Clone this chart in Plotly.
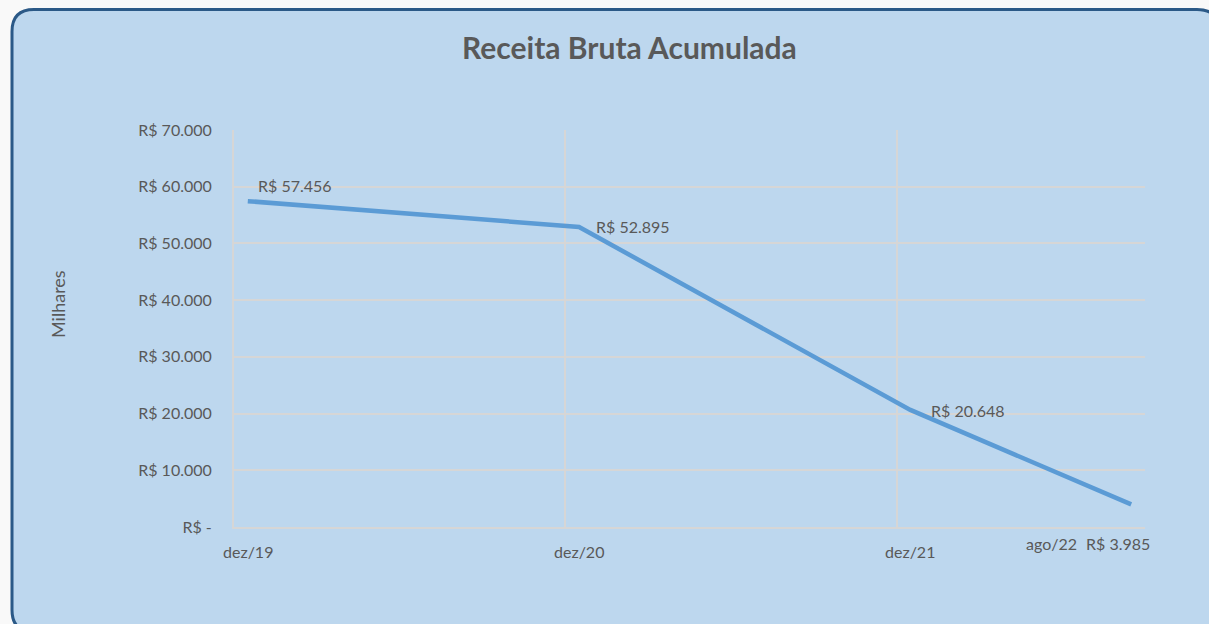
import plotly.graph_objects as go

# ---- data ----
month_index = [0, 12, 24, 32]
period_labels = ["dez/19", "dez/20", "dez/21", "ago/22"]
receita = [57456, 52895, 20648, 3985]
value_labels = ["R$ 57.456", "R$ 52.895", "R$ 20.648", "R$ 3.985"]
y_ticks = [0, 10000, 20000, 30000, 40000, 50000, 60000, 70000]
y_ticktext = ["R$ -", "R$ 10.000", "R$ 20.000", "R$ 30.000", "R$ 40.000",
              "R$ 50.000", "R$ 60.000", "R$ 70.000"]
x_grid = [-0.5, 11.5, 23.5]

W, H = 1209, 624
L, R, T, B = 234, 1145, 130, 527
PW, PH = R - L, B - T

def px(x):
    return (x - L) / PW

def py(y):
    return (B - y) / PH

TXT = "#595959"
FONT = "Lato"
GRID = "#D6D6D6"

fig = go.Figure()
fig.add_trace(go.Scatter(
    x=month_index, y=receita, mode="lines",
    line=dict(color="#5B9BD5", width=4.5, shape="linear"),
    hoverinfo="skip", showlegend=False,
))

# card background with rounded corners
x0, y0, x1, y1, r = 12, 9.5, 1219, 632, 22
path = (f"M {px(x0+r)},{py(y0)} L {px(x1-r)},{py(y0)} Q {px(x1)},{py(y0)} {px(x1)},{py(y0+r)} "
        f"L {px(x1)},{py(y1-r)} Q {px(x1)},{py(y1)} {px(x1-r)},{py(y1)} "
        f"L {px(x0+r)},{py(y1)} Q {px(x0)},{py(y1)} {px(x0)},{py(y1-r)} "
        f"L {px(x0)},{py(y0+r)} Q {px(x0)},{py(y0)} {px(x0+r)},{py(y0)} Z")
fig.add_shape(type="path", path=path, xref="paper", yref="paper",
              fillcolor="#BDD7EE", line=dict(color="#2B5987", width=3), layer="below")

annotations = []
# data labels
offsets = [(8, 16, "left"), (15, 1, "left"), (19, -1, "left"), (-13, -39, "center")]
for xv, yv, lab, (dx, dy, anc) in zip(month_index, receita, value_labels, offsets):
    annotations.append(dict(x=xv, y=yv, xref="x", yref="y", text=lab, showarrow=False,
                            xanchor=anc, yanchor="middle", xshift=dx, yshift=dy,
                            font=dict(family=FONT, size=16, color=TXT)))
# x category labels
xl_off = [(0, -24), (0, -24), (0, -24), (-80, -16)]
for xv, lab, (dx, dy) in zip(month_index, period_labels, xl_off):
    annotations.append(dict(x=xv, y=0, xref="x", yref="paper", text=lab, showarrow=False,
                            xanchor="center", yanchor="middle", xshift=dx, yshift=dy,
                            font=dict(family=FONT, size=16, color=TXT)))
# title
annotations.append(dict(x=px(629), y=py(47), xref="paper", yref="paper",
                        text="<b>Receita Bruta Acumulada</b>", showarrow=False,
                        xanchor="center", yanchor="middle",
                        font=dict(family=FONT, size=30, color=TXT)))
# y axis title
annotations.append(dict(x=px(58), y=py(304), xref="paper", yref="paper",
                        text="Milhares", showarrow=False, textangle=-90,
                        xanchor="center", yanchor="middle",
                        font=dict(family=FONT, size=18, color=TXT)))

fig.update_layout(
    width=W, height=H,
    margin=dict(l=L, r=W - R, t=T, b=H - B),
    paper_bgcolor="#F9F9F9", plot_bgcolor="rgba(0,0,0,0)",
    annotations=annotations,
    showlegend=False,
    xaxis=dict(range=[-0.5, 32.5], tickmode="array", tickvals=x_grid,
               ticktext=["", "", ""], showgrid=True, gridcolor=GRID, gridwidth=2,
               zeroline=False, showline=True, linecolor=GRID, linewidth=2,
               ticks="", fixedrange=True),
    yaxis=dict(range=[0, 70000], tickmode="array", tickvals=y_ticks, ticktext=y_ticktext,
               showgrid=True, gridcolor=GRID, gridwidth=2, zeroline=False,
               showline=True, linecolor=GRID, linewidth=2,
               ticks="", ticklabelstandoff=17,
               tickfont=dict(family=FONT, size=16, color=TXT), fixedrange=True),
)

fig.write_html("out.html", config={"displayModeBar": False},
               post_script="document.body.style.margin='0';document.body.style.overflow='hidden';")
